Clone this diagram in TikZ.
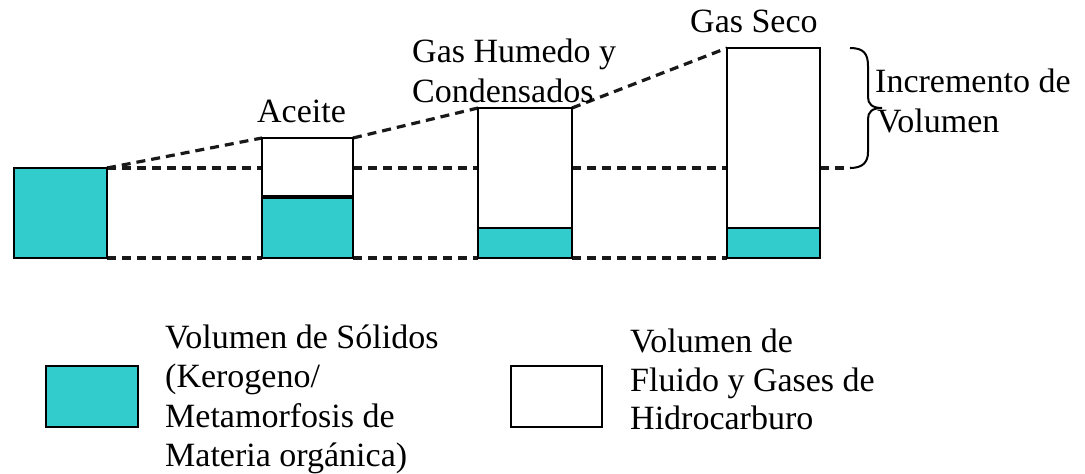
\documentclass[tikz,border=0pt]{standalone}
\usepackage{fontspec}
\setmainfont{Liberation Serif}
\newfontfamily\lserif{Liberation Serif}
\definecolor{solidcol}{RGB}{51,204,204}
\tikzset{
  boxline/.style={draw=black, line width=2pt},
  solidpart/.style={boxline, fill=solidcol},
  fluidpart/.style={boxline, fill=white},
  dashline/.style={draw=black!90, line width=3.2pt, dash pattern=on 9pt off 6pt},
  lbl/.style={anchor=base west, inner sep=0pt, font=\lserif\fontsize{34}{40}\selectfont},
}
\begin{document}
\begin{tikzpicture}[x=1pt,y=-1pt]
\useasboundingbox (0,0) rectangle (1085,474);
% corner coordinates
\coordinate (b1tl) at (14,168);  \coordinate (b1tr) at (107,168);
\coordinate (b1bl) at (14,258);  \coordinate (b1br) at (107,258);
\coordinate (b2tl) at (262,138); \coordinate (b2tr) at (353,138);
\coordinate (b2ml) at (262,168); \coordinate (b2mr) at (353,168);
\coordinate (b2bl) at (262,258); \coordinate (b2br) at (353,258);
\coordinate (b3tl) at (478,108); \coordinate (b3tr) at (572,108);
\coordinate (b3ml) at (478,168); \coordinate (b3mr) at (572,168);
\coordinate (b3bl) at (478,258); \coordinate (b3br) at (572,258);
\coordinate (b4tl) at (727,48);  \coordinate (b4tr) at (820,48);
\coordinate (b4ml) at (727,168); \coordinate (b4mr) at (820,168);
\coordinate (b4bl) at (727,258); \coordinate (b4br) at (820,258);
\coordinate (brb) at (850,168);
\coordinate (brt) at (850,48);
% dashed connectors
\draw[dashline] (b1tr) -- (b2tl);
\draw[dashline] (b2tr) -- (b3tl);
\draw[dashline] (b3tr) -- (b4tl);
\draw[dashline] (b1tr) -- (b2ml);
\draw[dashline] (b2mr) -- (b3ml);
\draw[dashline] (b3mr) -- (b4ml);
\draw[dashline] (b4mr) -- (brb);
\draw[dashline] (b1br) -- (b2bl);
\draw[dashline] (b2br) -- (b3bl);
\draw[dashline] (b3br) -- (b4bl);
% boxes
\draw[solidpart] (b1tl) rectangle (b1br);
\draw[fluidpart] (b2tl) rectangle (353,197);
\draw[solidpart] (262,197) rectangle (b2br);
\draw[line width=4pt] (262,197) -- (353,197);
\draw[fluidpart] (b3tl) rectangle (572,228);
\draw[solidpart] (478,228) rectangle (b3br);
\draw[fluidpart] (b4tl) rectangle (820,228);
\draw[solidpart] (727,228) rectangle (b4br);
% brace
\draw[line width=2pt] (brt) .. controls (864,48) and (868,54) .. (868,66)
  -- (868,97) .. controls (868,104) and (872,108) .. (882,108)
  .. controls (872,108) and (868,112) .. (868,119)
  -- (868,152) .. controls (868,162) and (863,168) .. (brb);
% labels
\node[lbl] (aceite) at (257,122) {Aceite};
\node[lbl] (gh1) at (412,62) {Gas Humedo y};
\node[lbl] (gh2) at (412,102) {Condensados};
\node[lbl] (gseco) at (690,32) {Gas Seco};
\node[lbl] (inc1) at (875,92) {Incremento de};
\node[lbl] (inc2) at (877,132) {Volumen};
% legend
\draw[solidpart] (46,366) rectangle (138,427);
\draw[fluidpart] (511,366) rectangle (602,427);
\node[lbl] (ls1) at (165,348) {Volumen de Sólidos};
\node[lbl] (ls2) at (165,387) {(Kerogeno/};
\node[lbl] (ls3) at (165,427) {Metamorfosis de};
\node[lbl] (ls4) at (165,466) {Materia orgánica)};
\node[lbl] (lf1) at (630,352) {Volumen de};
\node[lbl] (lf2) at (630,391) {Fluido y Gases de};
\node[lbl] (lf3) at (630,429) {Hidrocarburo};
\end{tikzpicture}
\end{document}
